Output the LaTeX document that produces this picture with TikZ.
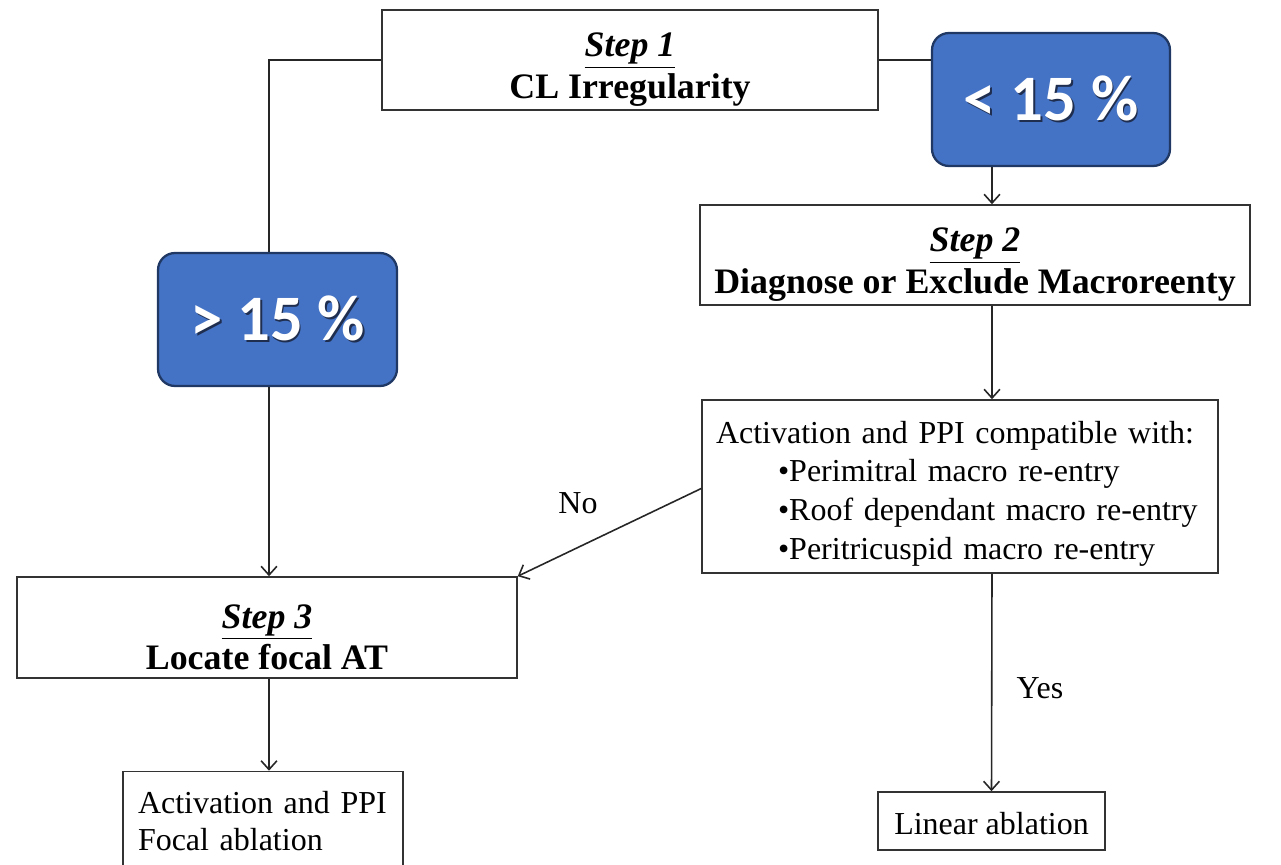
\documentclass[tikz,border=0pt]{standalone}
\usepackage{fontspec}
\setmainfont{Liberation Serif}
\newfontfamily\calib{Carlito}
\usetikzlibrary{arrows.meta,calc}
\definecolor{bluefill}{HTML}{4472C4}
\definecolor{navyline}{HTML}{203864}
\definecolor{shadowc}{HTML}{1F2E4F}
\newcommand{\headfont}{\bfseries\fontsize{20.4}{23.5}\selectfont}
\newcommand{\bodyfont}{\fontsize{18.2}{22}\selectfont}
\newcommand{\shtext}[1]{\rlap{\hspace{1.1pt}\raisebox{-1.1pt}{\color{shadowc}#1}}#1}
\newcommand{\toppad}{\rule{0pt}{24.5pt}}
\newcommand{\lpad}{\hspace*{0.28cm}}
\begin{document}
\begin{tikzpicture}[x=0.02cm,y=-0.02cm,
  box/.style={draw=black!80, line width=0.9pt, fill=white, inner sep=0pt, align=center},
  bluebox/.style={draw=navyline, fill=bluefill, line width=1.3pt, rounded corners=0.34cm,
    text=white, inner sep=0pt, font=\calib\bfseries\fontsize{36.9}{40}\selectfont},
  conn/.style={line width=0.9pt, draw=black!85},
  arr/.style={conn, -{Straight Barb[length=5pt,width=9pt]}},
  lbl/.style={font=\bodyfont, inner sep=0pt}]
\useasboundingbox (0,0) rectangle (1281,865);
\clip (0,0) rectangle (1281,865);

% nodes
\node[box, minimum width=9.92cm, minimum height=2cm, font=\headfont] (s1) at (630,60)
  {\toppad\underline{\textit{Step 1}}\\CL Irregularity};
\node[bluebox, minimum width=4.76cm, minimum height=2.66cm] (lt) at (1051,99.5)
  {\shtext{< 15 \%}};
\node[bluebox, minimum width=4.78cm, minimum height=2.66cm] (gt) at (277.5,319.5)
  {\shtext{> 15 \%}};
\node[box, minimum width=11.0cm, minimum height=2cm, font=\headfont] (s2) at (975,255)
  {\toppad\underline{\textit{Step 2}}\\Diagnose or Exclude Macroreenty};
\node[box, minimum width=10.32cm, minimum height=3.46cm, text width=10.32cm,
  align=left, font=\bodyfont] (act) at (960,486.5)
  {\rule{0pt}{20.5pt}\lpad Activation and PPI compatible with:\\
   \lpad\hspace*{1.24cm}\textbullet Perimitral macro re-entry\\
   \lpad\hspace*{1.24cm}\textbullet Roof dependant macro re-entry\\
   \lpad\hspace*{1.24cm}\textbullet Peritricuspid macro re-entry};
\node[box, minimum width=10.0cm, minimum height=2.02cm, font=\headfont] (s3) at (267,627.5)
  {\toppad\underline{\textit{Step 3}}\\Locate focal AT};
\node[box, minimum width=5.6cm, minimum height=2.0cm, text width=5.6cm,
  align=left, font=\fontsize{18.2}{21}\selectfont] (foc) at (263,821.5)
  {\hspace*{0.3cm}Activation and PPI\\\hspace*{0.3cm}Focal ablation};
\node[box, minimum width=4.54cm, minimum height=1.16cm, font=\bodyfont] (lin) at (991.5,821)
  {\rule{0pt}{15pt}Linear ablation};

% connectors
\coordinate (cL) at (269,60);
\coordinate (cR) at (992,0);
\draw[conn] (s1.west) -- (cL) -- (cL |- gt.north);
\draw[arr] (cL |- gt.south) -- (cL |- s3.north);
\draw[conn] (s1.east) -- (s1.east -| lt.west);
\draw[arr] (cR |- lt.south) -- (cR |- s2.north);
\draw[arr] (cR |- s2.south) -- (cR |- act.north);
\draw[arr] ($(act.west)+(0,2)$) -- (s3.north east);
\draw[arr] (cR |- act.south) -- (lin.north);
\draw[arr] (cL |- s3.south) -- (cL |- foc.north);

% labels
\node[lbl] (no) at (578,503) {No};
\node[lbl] (yes) at (1040,688) {Yes};
\end{tikzpicture}
\end{document}
